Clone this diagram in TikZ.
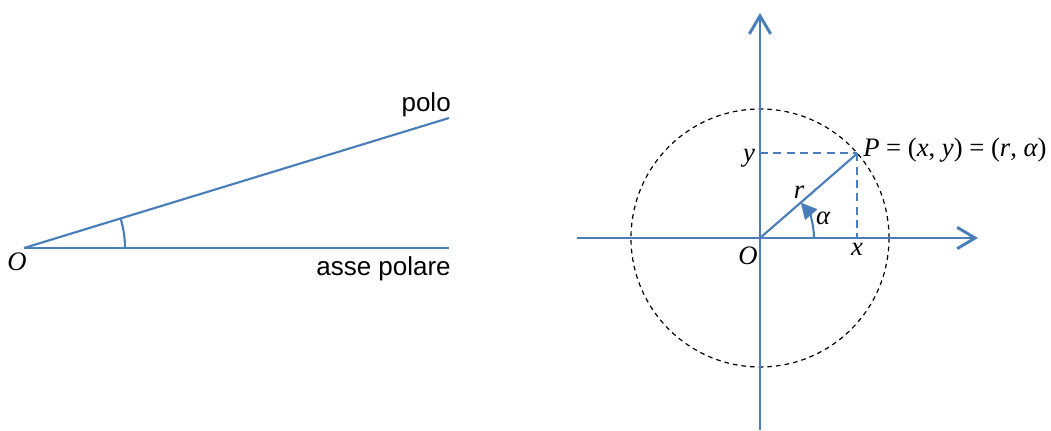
\documentclass[tikz,border=0pt]{standalone}
\usepackage{fontspec}
\setmainfont{Liberation Serif}
\newfontfamily\labsans{Liberation Sans}
\usetikzlibrary{arrows.meta,calc}
\definecolor{lineblue}{RGB}{74,126,187}
\tikzset{
  bl/.style={draw=lineblue, line width=1.6pt},
  axis/.style={draw=lineblue, line width=2.2pt, -{Straight Barb[length=13.5pt,width=16pt,line width=2.2pt]}},
  helper/.style={draw=lineblue, line width=1.6pt, dash pattern=on 6pt off 4pt},
  circ/.style={draw=black, line width=0.9pt, dash pattern=on 3.5pt off 3pt},
  mathlab/.style={font=\fontsize{20}{24}\selectfont\itshape, inner sep=0pt},
  sanslab/.style={font=\labsans\fontsize{19.5}{22}\selectfont, inner sep=0pt}
}
\begin{document}
\begin{tikzpicture}[x=0.75pt,y=0.75pt]
\useasboundingbox (0,0) rectangle (1051,430);
% left diagram
\coordinate (O1) at (24,182);
\coordinate (A1) at (449,182);
\coordinate (P1) at (449,312);
\draw[bl] (O1) -- (A1);
\draw[bl] (O1) -- (P1);
\draw[bl] ([shift={(0:101)}]O1) arc[start angle=0, end angle=17, radius=101];
\node[mathlab] (lO1) at (17,168) {O};
\node[sanslab, anchor=east] (lpolo) at (451,325) {polo};
\node[sanslab, anchor=east] (lasse) at (451,161) {asse polare};
% right diagram
\coordinate (O) at (760,192);
\coordinate (Ybot) at (760,0);
\coordinate (Ytop) at (760,417);
\coordinate (Xl) at (577,192);
\coordinate (Xr) at (978,192);
\draw[circ] (O) circle[radius=129];
\coordinate (P) at ($(O)+(41:129)$);
\path let \p1=(P) in coordinate (Py) at (760,\y1) coordinate (Px) at (\x1,192);
\draw[helper] (Py) -- (P);
\draw[helper] (P) -- (Px);
\draw[axis] (Ybot) -- (Ytop);
\draw[axis] (Xl) -- (Xr);
\draw[bl] (O) -- (P);
\draw[draw=lineblue, line width=1.6pt, -{Triangle[length=12pt,width=12pt]}] ([shift={(0:54)}]O) arc[start angle=0, end angle=41, radius=54];
\node[mathlab] (ly) at (749,272) {y};
\node[mathlab] (lx) at (857,181) {x};
\node[mathlab] (lO) at (748,174) {O};
\node[mathlab] (lr) at (799,238) {r};
\node[mathlab] (la) at (823,212) {α};
\node[mathlab, anchor=west] (lP) at (863,280) {P\upshape\ =\ (\itshape x\upshape ,\ \itshape y\upshape )\ =\ (\itshape r\upshape ,\ \itshape α\upshape )};
\end{tikzpicture}
\end{document}
